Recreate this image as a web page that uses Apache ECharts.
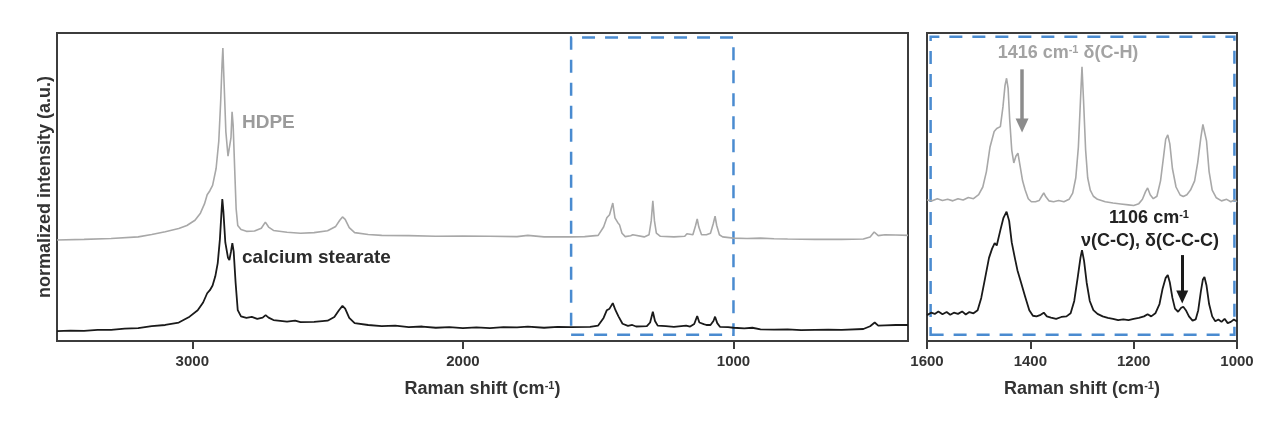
<!DOCTYPE html>
<html>
<head>
<meta charset="utf-8">
<script src="https://cdn.jsdelivr.net/npm/echarts@6/dist/echarts.min.js"></script>
<style>html,body{margin:0;padding:0;background:#fff}#c{width:1262px;height:422px}</style>
</head>
<body>
<div id="c"></div>
<script>
// ---- data: [Raman shift (cm-1), normalized intensity] ----
const hdpeFull = [
 [3500,0.328],[3400,0.330],[3300,0.333],[3200,0.338],[3150,0.346],[3100,0.355],[3050,0.365],[3020,0.375],
 [2990,0.392],[2970,0.415],[2955,0.445],[2945,0.475],[2935,0.488],[2925,0.505],[2912,0.56],[2902,0.65],
 [2895,0.78],[2890,0.90],[2887,0.951],[2883,0.85],[2876,0.68],[2868,0.60],[2862,0.595],[2857,0.66],
 [2853,0.744],[2849,0.70],[2843,0.55],[2838,0.43],[2832,0.375],[2820,0.362],[2800,0.356],[2770,0.357],
 [2745,0.366],[2730,0.386],[2718,0.370],[2700,0.359],[2650,0.353],[2600,0.350],[2550,0.352],[2500,0.358],
 [2470,0.372],[2455,0.392],[2445,0.403],[2435,0.395],[2420,0.368],[2400,0.352],[2350,0.346],[2300,0.343],
 [2200,0.342],[2100,0.340],[2000,0.341],[1900,0.340],[1800,0.339],[1760,0.343],[1700,0.338],[1650,0.338],
 [1600,0.338],[1550,0.339],[1500,0.343],[1480,0.370],[1468,0.400],[1458,0.410],[1446,0.448],[1438,0.400],
 [1428,0.385],[1421,0.377],[1412,0.350],[1400,0.339],[1380,0.342],[1372,0.345],[1365,0.339],[1330,0.338],
 [1312,0.345],[1304,0.390],[1298,0.455],[1292,0.390],[1285,0.350],[1270,0.340],[1220,0.338],[1180,0.340],
 [1172,0.348],[1165,0.342],[1150,0.345],[1140,0.375],[1134,0.396],[1128,0.370],[1118,0.345],[1100,0.345],
 [1085,0.350],[1075,0.380],[1068,0.405],[1062,0.375],[1052,0.345],[1040,0.338],[1000,0.334],[950,0.333],
 [900,0.334],[850,0.332],[800,0.331],[700,0.330],[600,0.330],[520,0.331],[495,0.338],[480,0.354],
 [465,0.342],[440,0.345],[400,0.344],[355,0.343]
];
const stearateFull = [
 [3500,0.032],[3450,0.034],[3400,0.033],[3350,0.036],[3300,0.036],[3250,0.040],[3200,0.042],[3150,0.048],
 [3100,0.052],[3050,0.060],[3010,0.079],[2980,0.100],[2960,0.125],[2945,0.155],[2935,0.165],[2925,0.180],
 [2915,0.210],[2906,0.253],[2898,0.330],[2892,0.420],[2889,0.461],[2885,0.420],[2878,0.320],[2868,0.270],
 [2863,0.263],[2857,0.290],[2852,0.318],[2847,0.290],[2840,0.190],[2832,0.100],[2820,0.080],[2800,0.075],
 [2780,0.078],[2760,0.072],[2740,0.076],[2729,0.084],[2718,0.076],[2700,0.068],[2650,0.063],[2620,0.066],
 [2600,0.061],[2550,0.062],[2500,0.066],[2475,0.078],[2458,0.100],[2445,0.114],[2435,0.105],[2420,0.075],
 [2400,0.058],[2350,0.052],[2300,0.048],[2250,0.050],[2200,0.045],[2150,0.047],[2100,0.043],[2050,0.045],
 [2000,0.042],[1950,0.044],[1900,0.042],[1850,0.045],[1800,0.044],[1760,0.047],[1700,0.043],[1650,0.046],
 [1600,0.045],[1530,0.046],[1500,0.050],[1480,0.075],[1468,0.100],[1458,0.105],[1446,0.123],[1436,0.100],
 [1425,0.080],[1410,0.056],[1390,0.049],[1374,0.052],[1360,0.047],[1320,0.048],[1308,0.060],[1298,0.095],
 [1290,0.065],[1280,0.050],[1250,0.048],[1220,0.046],[1175,0.050],[1160,0.047],[1145,0.055],[1134,0.081],
 [1126,0.060],[1110,0.055],[1100,0.052],[1085,0.052],[1074,0.065],[1068,0.079],[1060,0.058],[1050,0.046],
 [1020,0.045],[1000,0.043],[960,0.041],[930,0.043],[900,0.038],[850,0.037],[800,0.038],[750,0.035],
 [700,0.036],[650,0.037],[600,0.036],[520,0.039],[495,0.048],[478,0.060],[465,0.050],[440,0.051],
 [400,0.052],[355,0.052]
];
const hdpeZoom = [
 [1600,0.458],[1590,0.455],[1580,0.462],[1570,0.456],[1560,0.460],[1550,0.455],[1540,0.462],[1530,0.458],
 [1520,0.466],[1510,0.462],[1500,0.475],[1492,0.500],[1485,0.550],[1478,0.630],[1470,0.680],[1465,0.690],
 [1458,0.696],[1453,0.760],[1449,0.830],[1446,0.853],[1443,0.820],[1440,0.720],[1436,0.620],[1432,0.578],
 [1428,0.600],[1424,0.610],[1420,0.570],[1415,0.520],[1410,0.490],[1404,0.462],[1398,0.452],[1390,0.452],
 [1383,0.456],[1378,0.470],[1374,0.481],[1370,0.468],[1364,0.455],[1355,0.452],[1345,0.456],[1335,0.452],
 [1325,0.460],[1318,0.480],[1312,0.530],[1307,0.630],[1303,0.780],[1300,0.890],[1297,0.780],[1293,0.620],
 [1289,0.530],[1284,0.490],[1278,0.470],[1270,0.460],[1255,0.452],[1240,0.448],[1225,0.445],[1210,0.442],
 [1200,0.440],[1190,0.446],[1183,0.460],[1177,0.485],[1173,0.497],[1168,0.475],[1162,0.462],[1155,0.470],
 [1148,0.520],[1142,0.600],[1138,0.655],[1134,0.669],[1130,0.640],[1125,0.560],[1118,0.500],[1110,0.474],
 [1104,0.469],[1097,0.475],[1090,0.490],[1082,0.520],[1076,0.580],[1070,0.660],[1066,0.703],[1063,0.707],
 [1059,0.650],[1054,0.550],[1048,0.490],[1040,0.465],[1030,0.455],[1020,0.460],[1012,0.452],[1005,0.458],
 [1000,0.452]
];
const stearateZoom = [
 [1600,0.084],[1592,0.092],[1585,0.088],[1578,0.096],[1570,0.087],[1562,0.094],[1555,0.085],[1548,0.092],
 [1540,0.088],[1532,0.096],[1525,0.086],[1518,0.094],[1510,0.090],[1502,0.100],[1495,0.140],[1488,0.200],
 [1480,0.270],[1474,0.300],[1469,0.318],[1465,0.310],[1458,0.360],[1452,0.400],[1446,0.420],[1441,0.390],
 [1436,0.320],[1430,0.270],[1425,0.230],[1418,0.190],[1410,0.144],[1402,0.100],[1395,0.082],[1388,0.080],
 [1380,0.085],[1374,0.092],[1368,0.080],[1360,0.076],[1350,0.072],[1340,0.078],[1330,0.080],[1322,0.090],
 [1315,0.130],[1308,0.210],[1303,0.270],[1300,0.295],[1296,0.260],[1291,0.190],[1285,0.130],[1278,0.100],
 [1270,0.088],[1260,0.080],[1250,0.075],[1240,0.072],[1230,0.068],[1220,0.070],[1210,0.068],[1200,0.072],
 [1190,0.075],[1180,0.080],[1173,0.087],[1166,0.080],[1158,0.090],[1150,0.120],[1144,0.170],[1138,0.205],
 [1134,0.214],[1130,0.190],[1125,0.140],[1120,0.105],[1114,0.095],[1108,0.108],[1104,0.111],[1099,0.100],
 [1093,0.080],[1086,0.066],[1080,0.070],[1075,0.100],[1070,0.160],[1066,0.200],[1063,0.208],[1059,0.180],
 [1054,0.120],[1048,0.080],[1042,0.064],[1036,0.070],[1030,0.062],[1024,0.072],[1018,0.058],[1012,0.062],
 [1006,0.070],[1000,0.063]
];
const fullTicks = [3000, 2000, 1000];
const zoomRange = [1600, 1000];
const arrowCH = [[1416, 0.882], [1416, 0.70]];
const arrowCC = [[1106, 0.279], [1106, 0.143]];

const FONT = '"Liberation Sans", Arial, sans-serif';
const GREY = '#a8a8a8', BLACK = '#1a1a1a', BLUE = '#4a8bd0', FRAME = '#3c3c3c';

const chart = echarts.init(document.getElementById('c'), null, {renderer: 'canvas'});

const boxStyle = {color: 'rgba(0,0,0,0)', borderColor: BLUE, borderWidth: 2.5, borderType: [13, 10]};
const supRich = {s: {fontSize: 11, fontWeight: 'bold', fontFamily: FONT, verticalAlign: 'top', lineHeight: 11, color: '#333'}};

function xAxisBase(){
  return {
    type: 'value', inverse: true, splitLine: {show: false},
    axisLine: {show: true, onZero: false, lineStyle: {color: FRAME, width: 2}},
    axisTick: {show: true, inside: false, length: 8, lineStyle: {color: FRAME, width: 2}},
    axisLabel: {color: '#333', fontSize: 15, fontWeight: 'bold', fontFamily: FONT, margin: 13,
      formatter: function (v) { return String(v); }},
    name: 'Raman shift (cm{s|-1})', nameLocation: 'middle', nameGap: 39,
    nameTextStyle: {color: '#333', fontSize: 18, fontWeight: 'bold', fontFamily: FONT, rich: supRich}
  };
}
const xFull = xAxisBase();
xFull.gridIndex = 0; xFull.min = 355; xFull.max = 3500;
xFull.axisTick.customValues = fullTicks;
xFull.axisLabel.customValues = fullTicks;
const xZoom = xAxisBase();
xZoom.gridIndex = 1; xZoom.min = zoomRange[1]; xZoom.max = zoomRange[0]; xZoom.interval = 200;
xZoom.axisLabel.showMinLabel = true; xZoom.axisLabel.showMaxLabel = true;

const lineBase = {type: 'line', showSymbol: false, symbol: 'none', animation: false, silent: true};

chart.setOption({
  animation: false,
  grid: [
    {left: 57, right: 354, top: 33, bottom: 81, show: true, borderColor: FRAME, borderWidth: 2, backgroundColor: 'transparent'},
    {left: 927, right: 25, top: 33, bottom: 81, show: true, borderColor: FRAME, borderWidth: 2, backgroundColor: 'transparent'}
  ],
  xAxis: [xFull, xZoom],
  yAxis: [
    {type: 'value', gridIndex: 0, min: 0, max: 1, axisLine: {show: false}, axisTick: {show: false},
     axisLabel: {show: false}, splitLine: {show: false},
     name: 'normalized intensity (a.u.)', nameLocation: 'middle', nameGap: 3, nameRotate: 90,
     nameTextStyle: {color: '#333', fontSize: 18, fontWeight: 'bold', fontFamily: FONT}},
    {type: 'value', gridIndex: 1, min: 0, max: 1, axisLine: {show: false}, axisTick: {show: false},
     axisLabel: {show: false}, splitLine: {show: false}}
  ],
  series: [
    Object.assign({}, lineBase, {name: 'HDPE', xAxisIndex: 0, yAxisIndex: 0, data: hdpeFull,
      lineStyle: {color: GREY, width: 1.6},
      markArea: {silent: true, itemStyle: boxStyle, label: {show: false},
        data: [[{coord: [zoomRange[0], 0.02]}, {coord: [zoomRange[1], 0.985]}]]}}),
    Object.assign({}, lineBase, {name: 'calcium stearate', xAxisIndex: 0, yAxisIndex: 0, data: stearateFull,
      lineStyle: {color: BLACK, width: 1.8}}),
    Object.assign({}, lineBase, {name: 'HDPE zoom', xAxisIndex: 1, yAxisIndex: 1, data: hdpeZoom,
      lineStyle: {color: GREY, width: 1.6},
      markArea: {silent: true, itemStyle: boxStyle, label: {show: false},
        data: [[{coord: [1593, 0.02]}, {coord: [1005, 0.988]}]]},
      markLine: {silent: true, symbol: ['none', 'triangle'], symbolSize: [13, 14], label: {show: false},
        lineStyle: {color: '#8c8c8c', width: 3.5, type: 'solid'},
        data: [[{coord: arrowCH[0]}, {coord: arrowCH[1]}]]}}),
    Object.assign({}, lineBase, {name: 'calcium stearate zoom', xAxisIndex: 1, yAxisIndex: 1, data: stearateZoom,
      lineStyle: {color: BLACK, width: 1.8},
      markLine: {silent: true, symbol: ['none', 'triangle'], symbolSize: [12, 13], label: {show: false},
        lineStyle: {color: '#1a1a1a', width: 3, type: 'solid'},
        data: [[{coord: arrowCC[0]}, {coord: arrowCC[1]}]]}})
  ],
  graphic: [
    {type: 'text', x: 242, y: 123, silent: true, style: {text: 'HDPE', fill: '#9b9b9b',
      font: 'bold 19px ' + FONT, textAlign: 'left', textVerticalAlign: 'middle', align: 'left', verticalAlign: 'middle'}},
    {type: 'text', x: 242, y: 258, silent: true, style: {text: 'calcium stearate', fill: '#2b2b2b',
      font: 'bold 19px ' + FONT, textAlign: 'left', textVerticalAlign: 'middle', align: 'left', verticalAlign: 'middle'}},
    {type: 'text', x: 1068, y: 53, silent: true, style: {text: '1416 cm{g|-1} δ(C-H)', fill: '#a3a3a3',
      fontSize: 18, fontWeight: 'bold', fontFamily: FONT,
      rich: {g: {fontSize: 11, fontWeight: 'bold', fontFamily: FONT, verticalAlign: 'top', lineHeight: 11, fill: '#a3a3a3', color: '#a3a3a3'}},
      textAlign: 'center', textVerticalAlign: 'middle', align: 'center', verticalAlign: 'middle'}},
    {type: 'text', x: 1149, y: 218, silent: true, style: {text: '1106 cm{k|-1}', fill: '#222',
      fontSize: 18, fontWeight: 'bold', fontFamily: FONT,
      rich: {k: {fontSize: 11, fontWeight: 'bold', fontFamily: FONT, verticalAlign: 'top', lineHeight: 11, fill: '#222', color: '#222'}},
      textAlign: 'center', textVerticalAlign: 'middle', align: 'center', verticalAlign: 'middle'}},
    {type: 'text', x: 1150, y: 241, silent: true, style: {text: 'ν(C-C), δ(C-C-C)', fill: '#222',
      font: 'bold 18px ' + FONT, textAlign: 'center', textVerticalAlign: 'middle', align: 'center', verticalAlign: 'middle'}}
  ]
});
</script>
</body>
</html>
